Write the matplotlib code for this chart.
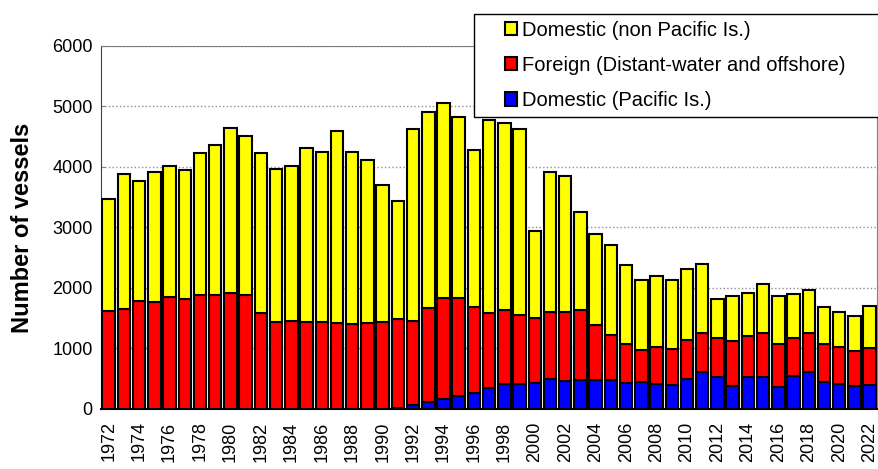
import numpy as np
import matplotlib.pyplot as plt
from matplotlib.patches import Rectangle

plt.rcParams['font.family'] = ['Liberation Sans', 'DejaVu Sans']

years = list(range(1972, 2023))

# cumulative tops
total = [3470, 3880, 3770, 3910, 4020, 3950, 4230, 4370, 4650, 4520,
         4230, 3970, 4010, 4310, 4240, 4600, 4240, 4110, 3710, 3440,
         4620, 4910, 5060, 4820, 4280, 4770, 4720, 4620, 2940, 3920,
         3850, 3250, 2890, 2710, 2380, 2130, 2190, 2130, 2310, 2400,
         1810, 1870, 1920, 2060, 1870, 1900, 1960, 1680, 1610, 1540, 1700]
red_top = [1620, 1650, 1790, 1770, 1850, 1820, 1880, 1880, 1920, 1880,
           1590, 1440, 1450, 1440, 1440, 1420, 1400, 1420, 1430, 1480,
           1460, 1670, 1840, 1840, 1690, 1580, 1640, 1560, 1510, 1610,
           1610, 1630, 1390, 1230, 1070, 975, 1030, 990, 1140, 1260,
           1180, 1120, 1200, 1250, 1080, 1180, 1250, 1080, 1020, 960, 1000]
dom_pacific = [0, 0, 0, 0, 0, 0, 0, 0, 0, 0,
               0, 0, 0, 0, 0, 0, 0, 0, 5, 20,
               60, 115, 165, 220, 270, 350, 420, 410, 435, 490,
               470, 485, 485, 480, 430, 450, 420, 400, 500, 610,
               530, 380, 530, 530, 370, 545, 610, 450, 410, 380, 400]

blue = np.array(dom_pacific)
red = np.array(red_top) - blue
yellow = np.array(total) - np.array(red_top)

W, H = 879, 469
fig = plt.figure(figsize=(W / 100, H / 100), dpi=100)
ax = fig.add_axes([0.115, 0.128, 0.883, 0.774])

x = np.arange(len(years))
w = 0.82
ax.bar(x, blue, w, color='#0000ff', edgecolor='black', linewidth=1.5,
       label='Domestic (Pacific Is.)', zorder=3)
ax.bar(x, red, w, bottom=blue, color='#ff0000', edgecolor='black', linewidth=1.5,
       label='Foreign (Distant-water and offshore)', zorder=3)
ax.bar(x, yellow, w, bottom=blue + red, color='#ffff00', edgecolor='black', linewidth=1.5,
       label='Domestic (non Pacific Is.)', zorder=3)

ax.set_xlim(-0.5, len(years) - 0.5)
ax.set_ylim(0, 6000)
ax.set_yticks(range(0, 6001, 1000))
ax.tick_params(axis='y', labelsize=13, length=3, direction='in', colors='#808080',
               labelcolor='black', pad=6)
ax.yaxis.grid(True, linestyle=':', color='#909090', linewidth=1, zorder=0)
ax.set_xticks(x[::2])
ax.set_xticklabels([str(y) for y in years[::2]], rotation=90, fontsize=13)
ax.tick_params(axis='x', length=0, pad=9)
ax.set_ylabel('Number of vessels', fontsize=17, fontweight='bold', labelpad=13)

for s in ['top', 'right']:
    ax.spines[s].set_color('#808080')
ax.spines['left'].set_color('#404040')
ax.spines['bottom'].set_color('black')
ax.spines['bottom'].set_linewidth(1.5)

# legend frame runs off the right edge of the picture
fig.patches.append(Rectangle((474 / W, 1 - 117 / H), (920 - 474) / W, (117 - 14) / H,
                             transform=fig.transFigure, facecolor='white',
                             edgecolor='black', linewidth=1, zorder=9))
handles, labels = ax.get_legend_handles_labels()
leg = fig.legend(handles[::-1], labels[::-1], loc='center left',
                 bbox_to_anchor=(505 / W, 1 - 65.5 / H), fontsize=14.5,
                 frameon=False, handlelength=0.62, handleheight=0.62,
                 handletextpad=0.2, labelspacing=0.8, borderpad=0,
                 borderaxespad=0)
leg.set_zorder(10)

fig.savefig('out.png', dpi=100)
